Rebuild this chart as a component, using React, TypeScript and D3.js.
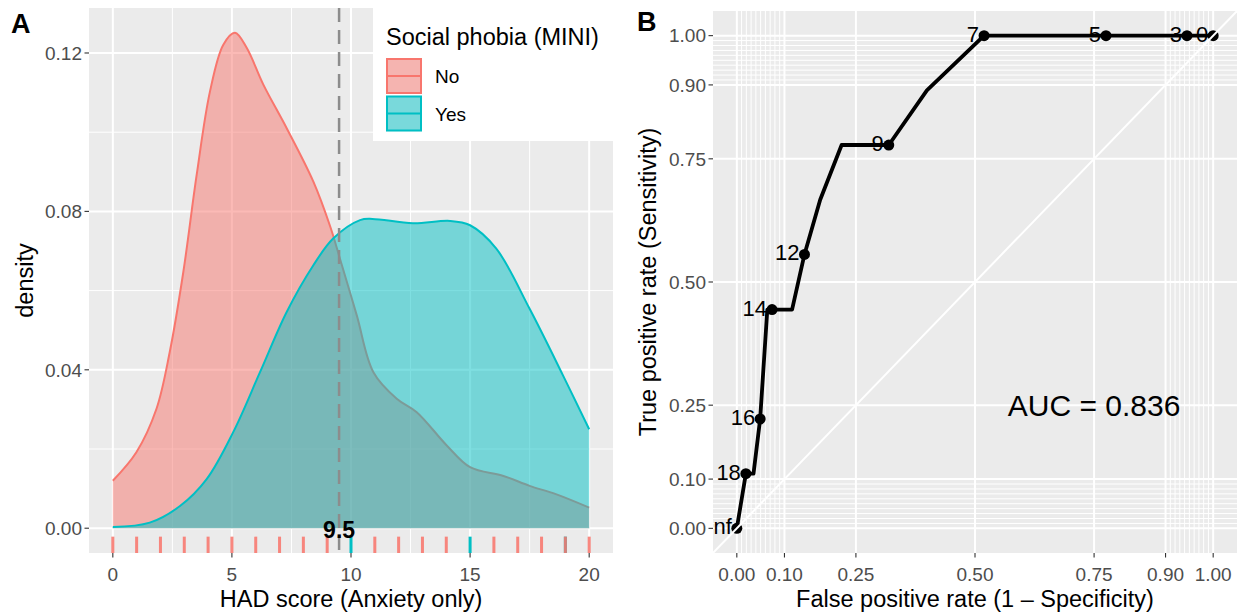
import React from 'react';
import * as d3 from 'd3';

// ---------- Panel A data ----------
const noX = [0, 0.99, 1.83, 2.39, 2.96, 3.52, 4.08, 4.64, 5.13, 5.62, 6.32, 7.3, 8.42, 9.12, 9.54, 10.24, 10.94, 11.92, 12.76, 14.02, 15, 16.4, 17.5, 18.6, 20];
const noD = [0.012, 0.0192, 0.0301, 0.0445, 0.0647, 0.0892, 0.1103, 0.1221, 0.1251, 0.1213, 0.112, 0.101, 0.0875, 0.0763, 0.068, 0.0538, 0.0394, 0.0327, 0.0293, 0.0209, 0.0154, 0.0132, 0.0107, 0.0086, 0.0052];
const yesX = [0, 1.55, 2.82, 3.94, 5.05, 6.18, 7.3, 8.42, 9.26, 10.38, 10.9, 12.6, 14.16, 15.0, 16.1, 17.5, 18.9, 20];
const yesD = [0.0003, 0.0014, 0.0056, 0.0124, 0.0242, 0.0394, 0.0546, 0.0664, 0.0732, 0.0778, 0.0781, 0.077, 0.0776, 0.0765, 0.0706, 0.0554, 0.0386, 0.025];
const rugNo = [0, 1, 2, 3, 4, 5, 6, 7, 8, 9, 11, 12, 13, 14, 16, 17, 18, 19, 20];
const rugYes = [10, 15, 19];
const cutoff = 9.5;
const xTicksA = [0, 5, 10, 15, 20];
const xMinorA = [2.5, 7.5, 12.5, 17.5];
const yTicksA = [0, 0.04, 0.08, 0.12];
const yMinorA = [0.02, 0.06, 0.1];
const groups = ['No', 'Yes'];

// ---------- Panel B data ----------
const rocFPR = [0, 0.019, 0.035, 0.049, 0.064, 0.074, 0.116, 0.142, 0.175, 0.22, 0.319, 0.399, 0.519, 0.775, 0.945, 1];
const rocTPR = [0, 0.111, 0.111, 0.222, 0.444, 0.444, 0.444, 0.556, 0.667, 0.778, 0.778, 0.889, 1, 1, 1, 1];
const rocLabel = ['Inf', '18', '', '16', '', '14', '', '12', '', '', '9', '', '7', '5', '3', '0'];
const rocBreaks = [0, 0.1, 0.25, 0.5, 0.75, 0.9, 1];
const rocMinor = [0.01, 0.02, 0.03, 0.04, 0.05, 0.06, 0.07, 0.08, 0.09, 0.91, 0.92, 0.93, 0.94, 0.95, 0.96, 0.97, 0.98, 0.99];
const aucText = 'AUC = 0.836';

const RED = '#F8766D';
const TEAL = '#00BFC4';
const PANEL = '#EBEBEB';
const FONT = '"Liberation Sans", Arial, Helvetica, sans-serif';
const TICKCOL = '#4D4D4D';

export default function App() {
  // Panel A scales
  const aL = 89, aR = 613, aT = 8, aB = 553;
  const xA = d3.scaleLinear().domain([-1, 21]).range([aL, aR]);
  const yA = d3.scaleLinear().domain([-0.00626, 0.13136]).range([aB, aT]);
  const noPts: [number, number][] = noX.map((x, i) => [x, noD[i]]);
  const yesPts: [number, number][] = yesX.map((x, i) => [x, yesD[i]]);
  const curve = d3.curveCatmullRom.alpha(0.5);
  const area = d3.area<[number, number]>().x(d => xA(d[0])).y0(yA(0)).y1(d => yA(d[1])).curve(curve);
  const line = d3.line<[number, number]>().x(d => xA(d[0])).y(d => yA(d[1])).curve(curve);

  // Panel B scales
  const bL = 713, bR = 1237, bT = 11, bB = 553;
  const xB = d3.scaleLinear().domain([-0.05, 1.05]).range([bL, bR]);
  const yB = d3.scaleLinear().domain([-0.05, 1.05]).range([bB, bT]);
  const rocPts: [number, number][] = rocFPR.map((f, i) => [f, rocTPR[i]]);
  const rocLine = d3.line<[number, number]>().x(d => xB(d[0])).y(d => yB(d[1]));
  const fmt = d3.format('.2f');

  const rugTop = aB - 0.03 * (aB - aT);

  return (
    <svg width={1238} height={615} style={{ position: 'absolute', left: 0, top: 0, background: '#fff' }} fontFamily={FONT}>
      <defs>
        <clipPath id="clipA"><rect x={aL} y={aT} width={aR - aL} height={aB - aT} /></clipPath>
        <clipPath id="clipB"><rect x={bL} y={bT} width={bR - bL} height={bB - bT} /></clipPath>
      </defs>
      {/* ---------------- Panel A ---------------- */}
      <rect x={aL} y={aT} width={aR - aL} height={aB - aT} fill={PANEL} />
      {xMinorA.map(v => <line key={'xm' + v} x1={xA(v)} x2={xA(v)} y1={aT} y2={aB} stroke="#fff" strokeWidth={1} />)}
      {yMinorA.map(v => <line key={'ym' + v} x1={aL} x2={aR} y1={yA(v)} y2={yA(v)} stroke="#fff" strokeWidth={1} />)}
      {xTicksA.map(v => <line key={'xg' + v} x1={xA(v)} x2={xA(v)} y1={aT} y2={aB} stroke="#fff" strokeWidth={2} />)}
      {yTicksA.map(v => <line key={'yg' + v} x1={aL} x2={aR} y1={yA(v)} y2={yA(v)} stroke="#fff" strokeWidth={2} />)}
      <g clipPath="url(#clipA)">
        <path d={area(noPts) || ''} fill={RED} fillOpacity={0.5} />
        <path d={line(noPts) || ''} fill="none" stroke={RED} strokeWidth={2} />
        <path d={area(yesPts) || ''} fill={TEAL} fillOpacity={0.5} />
        <path d={line(yesPts) || ''} fill="none" stroke={TEAL} strokeWidth={2} />
        {rugYes.map(v => <line key={'ry' + v} x1={xA(v)} x2={xA(v)} y1={rugTop} y2={aB} stroke={TEAL} strokeWidth={3} />)}
        {rugNo.map(v => <line key={'rn' + v} x1={xA(v)} x2={xA(v)} y1={rugTop} y2={aB} stroke={RED} strokeOpacity={0.88} strokeWidth={3} />)}
        <line x1={xA(cutoff)} x2={xA(cutoff)} y1={aT} y2={aB} stroke="#8C8C8C" strokeWidth={2.5} strokeDasharray="14,8" />
      </g>
      <text x={xA(cutoff)} y={538} textAnchor="middle" fontWeight="bold" fontSize={23} fill="#000">{String(cutoff)}</text>
      {/* legend */}
      <rect x={373} y={aT} width={aR - 373} height={133} fill="#fff" />
      <text x={386} y={45} fontSize={23.5} fill="#000">Social phobia (MINI)</text>
      {groups.map((g, i) => {
        const ky = 58 + i * 37.5;
        const col = i === 0 ? RED : TEAL;
        return (
          <g key={g}>
            <rect x={386} y={ky} width={36} height={36} fill="#F2F2F2" />
            <rect x={387} y={ky + 1} width={34} height={34} fill={col} fillOpacity={0.5} stroke={col} strokeWidth={2} />
            <line x1={387} x2={421} y1={ky + 18} y2={ky + 18} stroke={col} strokeWidth={2} />
            <text x={435} y={ky + 25} fontSize={19} fill="#000">{g}</text>
          </g>
        );
      })}
      {/* axes A */}
      {xTicksA.map(v => (
        <g key={'xt' + v}>
          <line x1={xA(v)} x2={xA(v)} y1={aB} y2={aB + 4.5} stroke="#333" strokeWidth={1.1} />
          <text x={xA(v)} y={581} textAnchor="middle" fontSize={19} fill={TICKCOL}>{v}</text>
        </g>
      ))}
      {yTicksA.map(v => (
        <g key={'yt' + v}>
          <line x1={aL - 4.5} x2={aL} y1={yA(v)} y2={yA(v)} stroke="#333" strokeWidth={1.1} />
          <text x={aL - 7} y={yA(v) + 6.8} textAnchor="end" fontSize={19} fill={TICKCOL}>{fmt(v)}</text>
        </g>
      ))}
      <text x={(aL + aR) / 2} y={607} textAnchor="middle" fontSize={23.5} fill="#000">HAD score (Anxiety only)</text>
      <text transform={`translate(33,${(aT + aB) / 2}) rotate(-90)`} textAnchor="middle" fontSize={23.5} fill="#000">density</text>
      <text x={11} y={33} fontSize={27} fontWeight="bold" fill="#000">A</text>

      {/* ---------------- Panel B ---------------- */}
      <rect x={bL} y={bT} width={bR - bL} height={bB - bT} fill={PANEL} />
      {rocMinor.map(v => <line key={'bxm' + v} x1={xB(v)} x2={xB(v)} y1={bT} y2={bB} stroke="#fff" strokeWidth={1} />)}
      {rocMinor.map(v => <line key={'bym' + v} x1={bL} x2={bR} y1={yB(v)} y2={yB(v)} stroke="#fff" strokeWidth={1} />)}
      {rocBreaks.map(v => <line key={'bxg' + v} x1={xB(v)} x2={xB(v)} y1={bT} y2={bB} stroke="#fff" strokeWidth={2} />)}
      {rocBreaks.map(v => <line key={'byg' + v} x1={bL} x2={bR} y1={yB(v)} y2={yB(v)} stroke="#fff" strokeWidth={2} />)}
      <g clipPath="url(#clipB)">
        <path d={rocLine(rocPts) || ''} fill="none" stroke="#000" strokeWidth={3.8} strokeLinejoin="round" />
        {rocPts.map((p, i) => rocLabel[i] ? (
          <g key={'rp' + i}>
            <circle cx={xB(p[0])} cy={yB(p[1])} r={5.5} fill="#000" />
            <text x={xB(p[0]) - 5} y={yB(p[1]) + 6} textAnchor="end" fontSize={22} fill="#000">{rocLabel[i]}</text>
          </g>
        ) : null)}
        <line x1={xB(-0.05)} x2={xB(1.05)} y1={yB(-0.05)} y2={yB(1.05)} stroke="#fff" strokeWidth={2} />
      </g>
      <text x={xB(0.75)} y={yB(0.25) + 11} textAnchor="middle" fontSize={30} fill="#000">{aucText}</text>
      {rocBreaks.map(v => (
        <g key={'bxt' + v}>
          <line x1={xB(v)} x2={xB(v)} y1={bB} y2={bB + 4.5} stroke="#333" strokeWidth={1.1} />
          <text x={xB(v)} y={581} textAnchor="middle" fontSize={19} fill={TICKCOL}>{fmt(v)}</text>
        </g>
      ))}
      {rocBreaks.map(v => (
        <g key={'byt' + v}>
          <line x1={bL - 4.5} x2={bL} y1={yB(v)} y2={yB(v)} stroke="#333" strokeWidth={1.1} />
          <text x={bL - 7} y={yB(v) + 6.8} textAnchor="end" fontSize={19} fill={TICKCOL}>{fmt(v)}</text>
        </g>
      ))}
      <text x={(bL + bR) / 2} y={607} textAnchor="middle" fontSize={23.5} fill="#000">False positive rate (1 – Specificity)</text>
      <text transform={`translate(656,${(bT + bB) / 2}) rotate(-90)`} textAnchor="middle" fontSize={23.5} fill="#000">True positive rate (Sensitivity)</text>
      <text x={637} y={31} fontSize={27} fontWeight="bold" fill="#000">B</text>
    </svg>
  );
}
